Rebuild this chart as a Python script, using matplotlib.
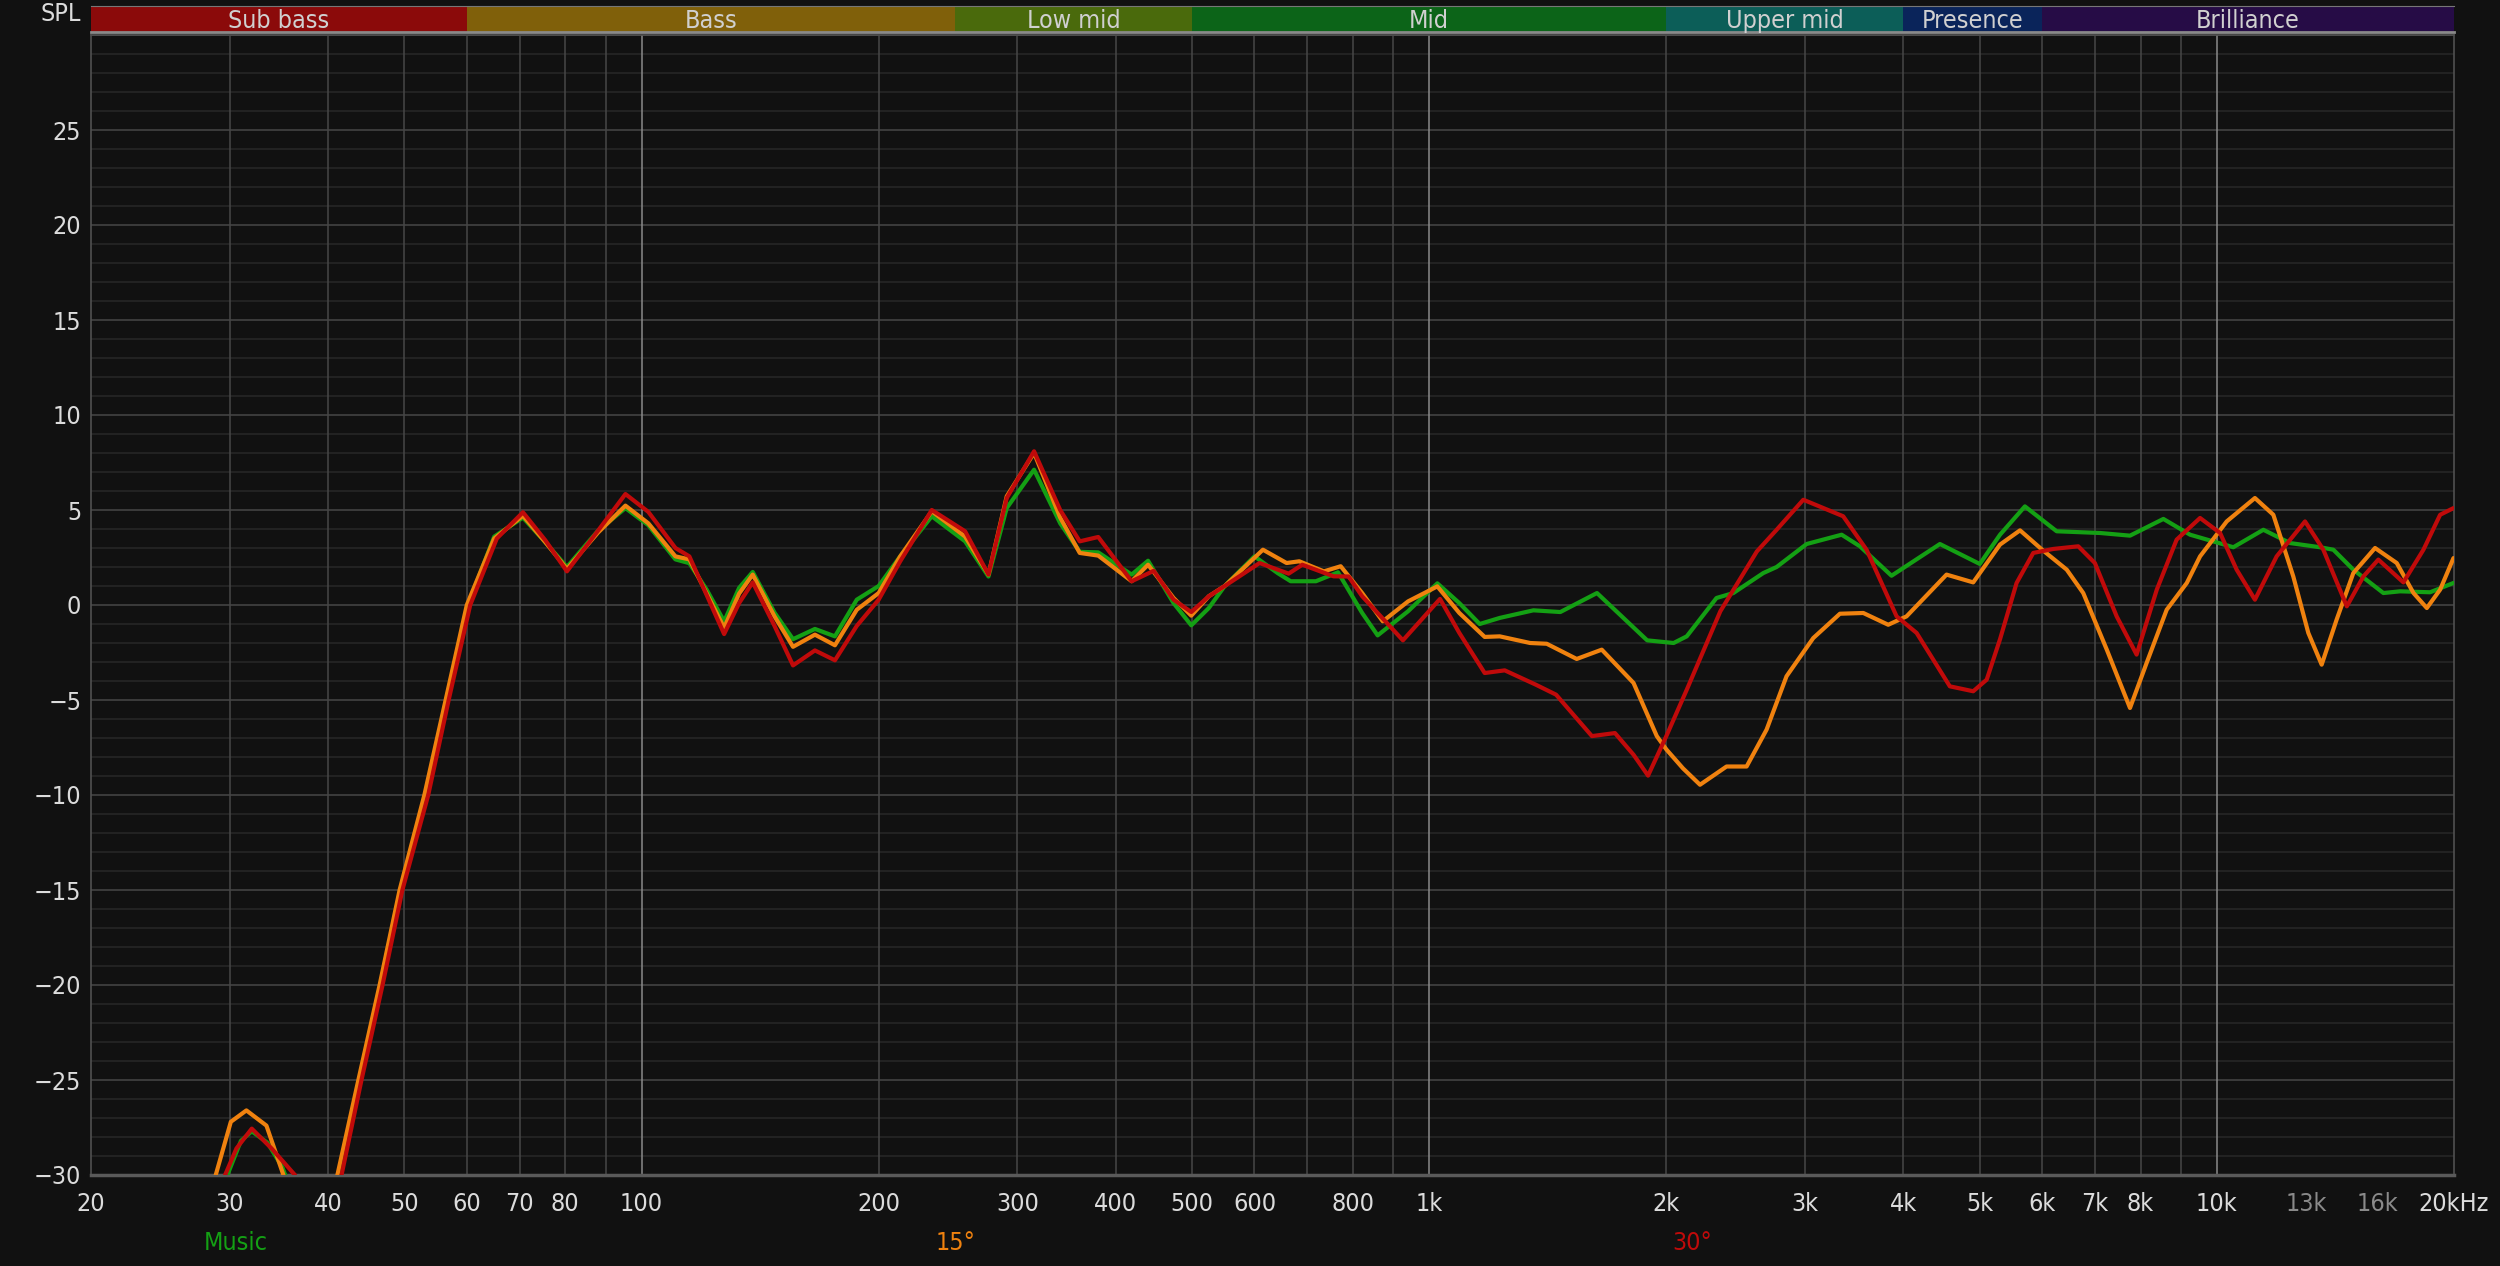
import matplotlib
matplotlib.use('Agg')
import matplotlib.pyplot as plt

plt.rcParams['font.family'] = ['DejaVu Sans']
plt.rcParams['font.stretch'] = 'condensed'

# frequency response curves (Hz, dB SPL)
music_hz = [29.0, 29.8, 31.0, 32.0, 33.5, 35.0, 36.0, 38.0, 40.5, 41.3,
            43.8, 46.6, 49.4, 53.2, 56.5, 60.2, 65.0, 70.7, 75.5, 80.4,
            88, 95.4, 102, 110.4, 115, 121, 127.3, 133, 138.4, 147.5,
            155.7, 166, 176, 187.6, 200, 213, 233.6, 257.5, 275.7, 290.8,
            315, 340, 360, 380, 419, 439.6, 473.6, 498.8, 525, 550,
            600, 642, 667, 718, 766, 822, 860, 940, 1024, 1092,
            1159, 1229, 1356, 1467, 1633, 1891, 2043, 2123, 2316, 2433,
            2655, 2761, 3014, 3339, 3522, 3863, 4450, 5000, 5305, 5705,
            6260, 7106, 7757, 8552, 9246, 10493, 11455, 12385, 13520, 14056,
            14900, 16270, 17085, 18650, 19970]
music_db = [-33, -30, -28.2, -27.7, -28.3, -29.6, -31, -36, -33, -30,
            -25, -20, -15, -10, -5, 0, 3.6, 4.6, 3.3, 2.0,
            3.9, 5.1, 4.2, 2.4, 2.2, 0.8, -0.86, 0.9, 1.74, -0.4,
            -1.8, -1.26, -1.65, 0.28, 1.0, 2.56, 4.67, 3.35, 1.5, 5.1,
            7.12, 4.3, 2.8, 2.77, 1.6, 2.33, 0.1, -1.07, -0.16, 1.0,
            2.56, 1.68, 1.25, 1.25, 1.72, -0.42, -1.6, -0.33, 1.14, 0.1,
            -1.0, -0.68, -0.28, -0.37, 0.63, -1.86, -2.0, -1.65, 0.37, 0.63,
            1.68, 2.0, 3.21, 3.7, 3.09, 1.54, 3.21, 2.16, 3.7, 5.19,
            3.88, 3.79, 3.65, 4.53, 3.7, 3.04, 3.96, 3.26, 3.04, 2.91,
            1.86, 0.63, 0.72, 0.67, 1.16]

deg15_hz = [28.5, 28.8, 30.1, 31.5, 33.4, 35.1, 36.0, 38.0, 40.8, 41.1,
            43.7, 46.5, 49.3, 53.0, 56.4, 60.0, 65.0, 70.7, 75.5, 80.4,
            88, 95.4, 102, 110.4, 115, 121, 127.3, 133, 138.4, 147.5,
            155.7, 166, 176, 187.6, 200, 213, 233.6, 257.5, 275.7, 290.8,
            315, 340, 360, 380, 419, 439.6, 473.6, 498.8, 525, 550,
            615, 659, 684, 735, 772, 822, 873, 940, 1024, 1092,
            1176, 1229, 1343, 1410, 1539, 1656, 1817, 1945, 2000, 2100,
            2207, 2385, 2529, 2681, 2842, 3073, 3322, 3557, 3826, 4036,
            4537, 4905, 5305, 5624, 6000, 6447, 6766, 7248, 7757, 8143,
            8635, 9158, 9520, 10292, 11176, 11794, 12503, 13064, 13584, 14191,
            14900, 15878, 16917, 17767, 18473, 19206, 19970]
deg15_db = [-33, -30, -27.2, -26.6, -27.4, -30, -32, -36, -32, -30,
            -25, -20, -15, -10, -5, 0, 3.5, 4.7, 3.3, 1.9,
            3.8, 5.23, 4.3, 2.56, 2.4, 0.6, -1.2, 0.6, 1.6, -0.6,
            -2.2, -1.56, -2.12, -0.25, 0.63, 2.56, 4.93, 3.6, 1.6, 5.72,
            8.0, 4.6, 2.74, 2.6, 1.25, 2.12, 0.37, -0.56, 0.46, 1.0,
            2.91, 2.21, 2.3, 1.77, 2.04, 0.63, -0.86, 0.19, 0.98, -0.42,
            -1.68, -1.65, -2.0, -2.04, -2.84, -2.35, -4.1, -6.9, -7.6, -8.6,
            -9.46, -8.5, -8.5, -6.56, -3.75, -1.74, -0.46, -0.42, -1.04, -0.6,
            1.6, 1.19, 3.18, 3.93, 2.91, 1.86, 0.63, -2.35, -5.42, -3.05,
            -0.25, 1.16, 2.56, 4.4, 5.63, 4.75, 1.5, -1.47, -3.14, -0.77,
            1.68, 3.0, 2.21, 0.63, -0.16, 0.81, 2.47]

deg30_hz = [29.2, 29.6, 30.6, 32.0, 33.9, 36.3, 37.5, 39.0, 41.0, 41.6,
            44.1, 46.9, 49.7, 53.6, 56.9, 60.6, 65.5, 70.7, 75.5, 80.4,
            88, 95.4, 102, 110.4, 115, 121.7, 127.3, 133, 138.4, 147.5,
            155.7, 166, 176, 187.6, 200, 213, 233.6, 257.5, 275.7, 290.8,
            315, 340, 360, 380, 419, 447, 473.6, 498.8, 525, 550,
            609, 663, 690, 756, 790, 822, 926, 1032, 1092, 1176,
            1247, 1365, 1449, 1609, 1721, 1817, 1896, 2000, 2123, 2342,
            2606, 2761, 2985, 3354, 3591, 3921, 4157, 4581, 4905, 5102,
            5305, 5568, 5846, 6199, 6668, 7000, 7461, 7908, 8389, 8890,
            9520, 10094, 10595, 11176, 11909, 12939, 13650, 14620, 15345, 16030,
            17250, 18290, 19206, 19970]
deg30_db = [-33, -30, -28.6, -27.56, -28.6, -30, -32, -36, -33, -30,
            -25, -20, -15, -10, -5, 0, 3.5, 4.88, 3.4, 1.77,
            3.9, 5.84, 4.9, 3.0, 2.56, 0.28, -1.53, 0.1, 1.19, -1.1,
            -3.18, -2.39, -2.91, -1.1, 0.28, 2.3, 5.0, 3.88, 1.6, 5.63,
            8.09, 5.0, 3.35, 3.58, 1.25, 1.8, 0.28, -0.37, 0.46, 1.0,
            2.21, 1.65, 2.12, 1.51, 1.5, 0.46, -1.86, 0.32, -1.47, -3.58,
            -3.44, -4.19, -4.72, -6.9, -6.74, -7.88, -8.98, -6.9, -4.46, -0.33,
            2.82, 3.96, 5.54, 4.67, 2.91, -0.6, -1.47, -4.28, -4.54, -3.93,
            -1.8, 1.16, 2.74, 2.95, 3.09, 2.21, -0.6, -2.61, 0.81, 3.44,
            4.58, 3.79, 1.86, 0.28, 2.56, 4.4, 2.91, -0.07, 1.5, 2.39,
            1.19, 2.91, 4.75, 5.1]

series_names = ['Music', '15°', '30°']
series_colors = ['#14a014', '#f0820f', '#c00a0a']

band_names = ['Sub bass', 'Bass', 'Low mid', 'Mid', 'Upper mid', 'Presence', 'Brilliance']
band_edges = [20, 60, 250, 500, 2000, 4000, 6000, 20000]
band_colors = ['#8b0a0a', '#80600a', '#4a6a0c', '#0c6418', '#0c5e58', '#0a245a', '#260c46']

x_ticks = [20, 30, 40, 50, 60, 70, 80, 100, 200, 300, 400, 500, 600, 800,
           1000, 2000, 3000, 4000, 5000, 6000, 7000, 8000, 10000, 13000, 16000, 20000]
x_labels = ['20', '30', '40', '50', '60', '70', '80', '100', '200', '300', '400', '500',
            '600', '800', '1k', '2k', '3k', '4k', '5k', '6k', '7k', '8k', '10k',
            '13k', '16k', '20kHz']
y_ticks = [-30, -25, -20, -15, -10, -5, 0, 5, 10, 15, 20, 25]

bg = '#111111'
W, H = 2500, 1266
fig = plt.figure(figsize=(25, 12.66), dpi=100, facecolor=bg)

ax = fig.add_axes([91 / W, 91 / H, 2363 / W, 1140 / H])
ax.set_facecolor(bg)
ax.set_xscale('log')
ax.set_xlim(20, 20000)
ax.set_ylim(-30, 30)

# grid
for d in range(-30, 31):
    ax.axhline(d, color='#474747' if d % 5 == 0 else '#282828', lw=1.1, zorder=1)
for dec in [10, 100, 1000, 10000]:
    for k in range(1, 10):
        f = k * dec
        if f <= 20 or f >= 20000:
            continue
        if f in (100, 1000, 10000):
            c = '#8a8a8a'
        elif f > 10000:
            c = '#2e2e2e'
        else:
            c = '#474747'
        ax.axvline(f, color=c, lw=1.1, zorder=1.5)

for hz, db, c, z in [(music_hz, music_db, series_colors[0], 3),
                     (deg15_hz, deg15_db, series_colors[1], 4),
                     (deg30_hz, deg30_db, series_colors[2], 5)]:
    ax.plot(hz, db, color=c, lw=3.0, zorder=z, solid_joinstyle='round', solid_capstyle='round')

ax.xaxis.set_minor_locator(plt.NullLocator())
ax.set_xticks(x_ticks)
ax.set_xticklabels(x_labels)
ax.set_yticks(y_ticks)
ax.tick_params(axis='both', length=0, colors='#dcdcdc', labelsize=18)
ax.tick_params(axis='x', pad=12)
ax.tick_params(axis='y', pad=7)
for lab in ax.get_xticklabels():
    if lab.get_text() in ('13k', '16k'):
        lab.set_color('#8a8a8a')
for side in ['left', 'right', 'top']:
    ax.spines[side].set_color('#505050')
    ax.spines[side].set_linewidth(1.2)
ax.spines['bottom'].set_color('#5a5a5a')
ax.spines['bottom'].set_linewidth(2.5)

# band bar
bax = fig.add_axes([91 / W, (H - 32) / H, 2363 / W, 26 / H])
bax.set_xscale('log')
bax.set_xlim(20, 20000)
bax.set_ylim(0, 1)
for i, name in enumerate(band_names):
    lo, hi = band_edges[i], band_edges[i + 1]
    bax.axvspan(lo, hi, color=band_colors[i], lw=0)
    bax.text((lo * hi) ** 0.5, 0.42, name, ha='center', va='center', color='#d0d0d0', fontsize=18)
bax.set_xticks([])
bax.set_yticks([])
bax.xaxis.set_minor_locator(plt.NullLocator())
for side in ['left', 'right']:
    bax.spines[side].set_visible(False)
bax.spines['top'].set_color('#777777')
bax.spines['bottom'].set_color('#8a8a8a')
bax.spines['bottom'].set_linewidth(2)

fig.text(61 / W, 1 - 14 / H, 'SPL', ha='center', va='center', color='#dcdcdc', fontsize=18)

legend_x = [236, 956, 1692]
for name, c, x in zip(series_names, series_colors, legend_x):
    fig.text(x / W, 1 - 1243 / H, name, ha='center', va='center', color=c, fontsize=18)

fig.savefig('out.png', dpi=100, facecolor=bg)
